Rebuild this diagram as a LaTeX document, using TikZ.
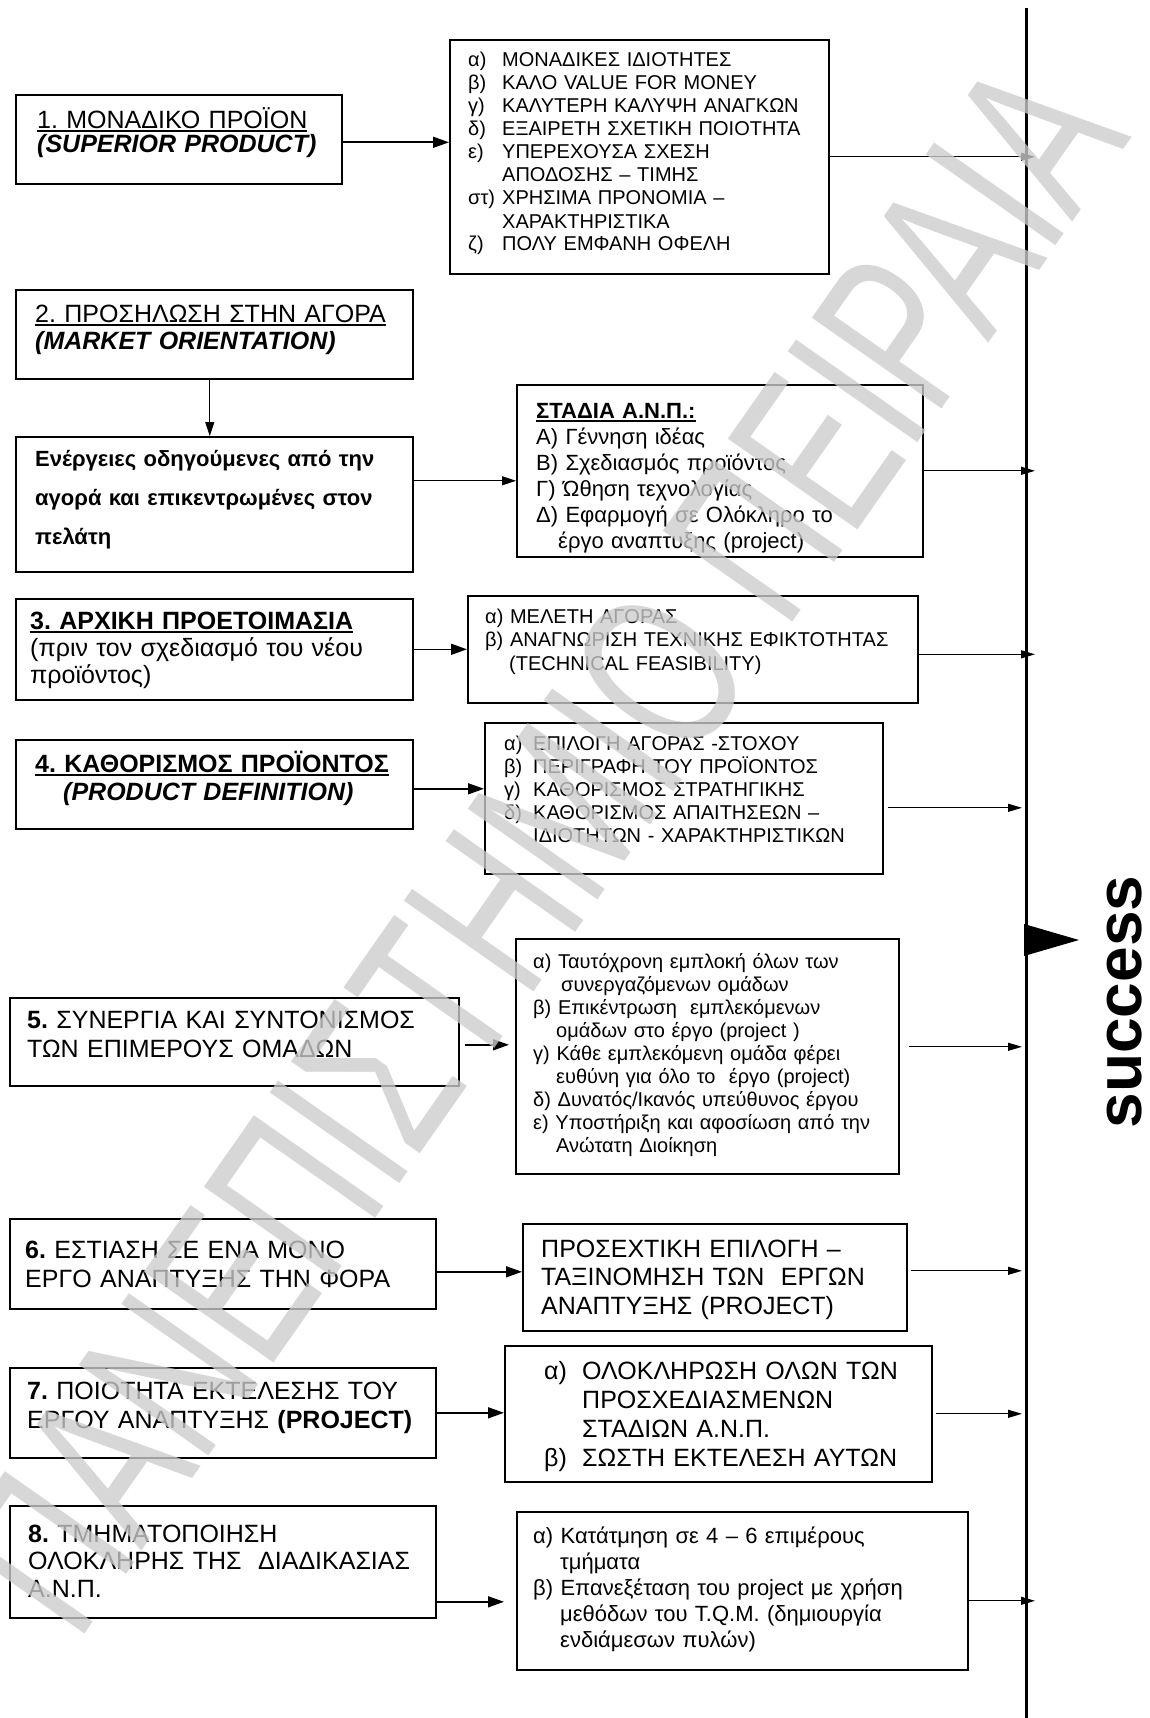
\documentclass[tikz,border=0pt]{standalone}
\usepackage{fontspec}
\setmainfont{Liberation Sans}
\usetikzlibrary{arrows.meta}
\frenchspacing
\newcommand\fs[2]{\fontsize{#1}{#2}\selectfont}
\newcommand\lab[2][34pt]{\makebox[#1][l]{#2}}
\newcommand\hd[1]{\setbox0\hbox{#1}\rlap{\rule[-3.5pt]{\wd0}{1.8pt}}\box0}
\tikzset{
  box/.style={draw, line width=1.6pt, inner sep=0pt, anchor=north west},
  txt/.style={anchor=base west, inner sep=0pt, text width=440pt, align=left},
  flow/.style={line width=1.6pt, -{Triangle[length=16pt,width=11pt]}},
  thinflow/.style={line width=1.1pt, -{Triangle[length=14pt,width=9pt]}},
  goal/.style={line width=1.2pt, -{Triangle[length=14pt,width=8pt]}},
}
\begin{document}
\begin{tikzpicture}[x=1pt,y=-1pt]
  \useasboundingbox (0,0) rectangle (1149,1718);
  % the axis towards success
  \coordinate (ax) at (1026,8);
  \coordinate (axb) at (1026,1718);
  \draw[line width=3pt] (ax) -- (axb);
  \fill (1024,924) -- (1079,940) -- (1024,956) -- cycle;
  \node[rotate=90, font=\fs{64}{64}\bfseries] (succ) at (1125,1002) {success};

  % 1
  \node[box, minimum width=326, minimum height=89] (c1) at (15,94) {};
  \node[txt, font=\fs{25}{23.5}] (c1t) at (37,128.5)
    {\hd{1. ΜΟΝΑΔΙΚΟ ΠΡΟΪΟΝ}\\\textbf{\textit{(SUPERIOR PRODUCT)}}};
  \node[box, minimum width=379, minimum height=234] (r1) at (449,39) {};
  \node[txt, font=\fs{20}{23}] (r1t) at (468,67)
    {\lab{α)}ΜΟΝΑΔΙΚΕΣ ΙΔΙΟΤΗΤΕΣ\\
     \lab{β)}ΚΑΛΟ VALUE FOR MONEY\\
     \lab{γ)}ΚΑΛΥΤΕΡΗ ΚΑΛΥΨΗ ΑΝΑΓΚΩΝ\\
     \lab{δ)}ΕΞΑΙΡΕΤΗ ΣΧΕΤΙΚΗ ΠΟΙΟΤΗΤΑ\\
     \lab{ε)}ΥΠΕΡΕΧΟΥΣΑ ΣΧΕΣΗ\\
     \lab{}ΑΠΟΔΟΣΗΣ – ΤΙΜΗΣ\\
     \lab{στ)}ΧΡΗΣΙΜΑ ΠΡΟΝΟΜΙΑ –\\
     \lab{}ΧΑΡΑΚΤΗΡΙΣΤΙΚΑ\\
     \lab{ζ)}ΠΟΛΥ ΕΜΦΑΝΗ ΟΦΕΛΗ};
  \draw[flow] ([yshift=-3]c1.east) -- ([yshift=-3]c1.east -| r1.west);
  \draw[goal] (r1.east) -- ([xshift=9]r1.east -| ax);

  % 2
  \node[box, minimum width=397, minimum height=89] (c2) at (15,289) {};
  \node[txt, font=\fs{25}{27}] (c2t) at (35,322)
    {\hd{2. ΠΡΟΣΗΛΩΣΗ ΣΤΗΝ ΑΓΟΡΑ}\\\textbf{\textit{(MARKET ORIENTATION)}}};
  \node[box, minimum width=397, minimum height=135] (c2b) at (15,436) {};
  \node[txt, font=\fs{22}{39}\bfseries] (c2bt) at (35,466)
    {Ενέργειες οδηγούμενες από την\\αγορά και επικεντρωμένες στον\\πελάτη};
  \node[box, minimum width=406, minimum height=172] (r2) at (516,384) {};
  \node[txt, font=\fs{22}{26}] (r2t) at (536,418)
    {\textbf{\hd{ΣΤΑΔΙΑ Α.Ν.Π.:}}\\
     Α) Γέννηση ιδέας\\
     Β) Σχεδιασμός προϊόντος\\
     Γ) Ώθηση τεχνολογίας\\
     Δ) Εφαρμογή σε Ολόκληρο το\\
     \lab[22pt]{}έργο αναπτυξης (project)};
  \draw[thinflow] ([xshift=-4.5]c2.south) -- ([xshift=-4.5]c2b.north);
  \draw[thinflow] ([yshift=23.5]c2b.east) -- ([yshift=23.5]c2b.east -| r2.west);
  \draw[goal] (r2.east) -- ([xshift=9]r2.east -| ax);

  % 3
  \node[box, minimum width=397, minimum height=101] (c3) at (15,598) {};
  \node[txt, font=\fs{25}{27}] (c3t) at (30,629)
    {\textbf{\hd{3. ΑΡΧΙΚΗ ΠΡΟΕΤΟΙΜΑΣΙΑ}}\\(πριν τον σχεδιασμό του νέου\\προϊόντος)};
  \node[box, minimum width=450, minimum height=107] (r3) at (467,595) {};
  \node[txt, font=\fs{20}{23.5}] (r3t) at (485,623)
    {α) ΜΕΛΕΤΗ ΑΓΟΡΑΣ\\
     β) ΑΝΑΓΝΩΡΙΣΗ ΤΕΧΝΙΚΗΣ ΕΦΙΚΤΟΤΗΤΑΣ\\
     \lab[24pt]{}(TECHNICAL FEASIBILITY)};
  \draw[flow] (c3.east) -- (c3.east -| r3.west);
  \draw[goal] ([yshift=-5]r3.east) -- ([xshift=9,yshift=-5]r3.east -| ax);

  % 4
  \node[box, minimum width=397, minimum height=89] (c4) at (15,739) {};
  \node[txt, font=\fs{25}{28}] (c4t) at (35,772)
    {\textbf{\hd{4. ΚΑΘΟΡΙΣΜΟΣ ΠΡΟΪΟΝΤΟΣ}}\\\lab[28pt]{}\textbf{\textit{(PRODUCT DEFINITION)}}};
  \node[box, minimum width=398, minimum height=151] (r4) at (484,722) {};
  \node[txt, font=\fs{20}{23}] (r4t) at (504,750)
    {\lab[29pt]{α)}ΕΠΙΛΟΓΗ ΑΓΟΡΑΣ -ΣΤΟΧΟΥ\\
     \lab[29pt]{β)}ΠΕΡΙΓΡΑΦΗ ΤΟΥ ΠΡΟΪΟΝΤΟΣ\\
     \lab[29pt]{γ)}ΚΑΘΟΡΙΣΜΟΣ ΣΤΡΑΤΗΓΙΚΗΣ\\
     \lab[29pt]{δ)}ΚΑΘΟΡΙΣΜΟΣ ΑΠΑΙΤΗΣΕΩΝ –\\
     \lab[29pt]{}ΙΔΙΟΤΗΤΩΝ - ΧΑΡΑΚΤΗΡΙΣΤΙΚΩΝ};
  \draw[flow] ([yshift=-4.5]c4.east) -- ([yshift=-4.5]c4.east -| r4.west);
  \draw[goal, shorten <=4] ([yshift=-9.5]r4.east) -- ([xshift=-4,yshift=-9.5]r4.east -| ax);

  % 5
  \node[box, minimum width=449, minimum height=88] (c5) at (9,997) {};
  \node[txt, font=\fs{25}{29}] (c5t) at (27,1028)
    {\textbf{5.} ΣΥΝΕΡΓΙΑ ΚΑΙ ΣΥΝΤΟΝΙΣΜΟΣ\\ΤΩΝ ΕΠΙΜΕΡΟΥΣ ΟΜΑΔΩΝ};
  \node[box, minimum width=383, minimum height=235] (r5) at (515,938) {};
  \node[txt, font=\fs{20}{23}] (r5t) at (533,968)
    {α) Ταυτόχρονη εμπλοκή όλων των\\
     \lab[28pt]{}συνεργαζόμενων ομάδων\\
     β) Επικέντρωση \ εμπλεκόμενων\\
     \lab[23pt]{}ομάδων στο έργο (project )\\
     γ) Κάθε εμπλεκόμενη ομάδα φέρει\\
     \lab[23pt]{}ευθύνη για όλο το \ έργο (project)\\
     δ) Δυνατός/Ικανός υπεύθυνος έργου\\
     ε) Υποστήριξη και αφοσίωση από την\\
     \lab[23pt]{}Ανώτατη Διοίκηση};
  \draw[flow, shorten <=5, shorten >=6] ([yshift=-3]c5.east) -- ([yshift=-3]c5.east -| r5.west);
  \draw[goal, shorten <=9] ([yshift=9.5]r5.east) -- ([xshift=-4,yshift=9.5]r5.east -| ax);

  % 6
  \node[box, minimum width=426, minimum height=90] (c6) at (9,1218) {};
  \node[txt, font=\fs{25}{29}] (c6t) at (25,1258)
    {\textbf{6.} ΕΣΤΙΑΣΗ ΣΕ ΕΝΑ ΜΟΝΟ\\ΕΡΓΟ ΑΝΑΠΤΥΞΗΣ ΤΗΝ ΦΟΡΑ};
  \node[box, minimum width=384, minimum height=107] (r6) at (522,1223) {};
  \node[txt, font=\fs{25}{28.5}] (r6t) at (541,1257)
    {ΠΡΟΣΕΧΤΙΚΗ ΕΠΙΛΟΓΗ –\\ΤΑΞΙΝΟΜΗΣΗ ΤΩΝ \ ΕΡΓΩΝ\\ΑΝΑΠΤΥΞΗΣ (PROJECT)};
  \draw[flow] ([yshift=-8]c6.east) -- ([yshift=-8]c6.east -| r6.west);
  \draw[goal, shorten <=3] ([yshift=6.5]r6.east) -- ([xshift=-4,yshift=6.5]r6.east -| ax);

  % 7
  \node[box, minimum width=426, minimum height=90] (c7) at (9,1367) {};
  \node[txt, font=\fs{25}{29}] (c7t) at (27,1399)
    {\textbf{7.} ΠΟΙΟΤΗΤΑ ΕΚΤΕΛΕΣΗΣ ΤΟΥ\\ΕΡΓΟΥ ΑΝΑΠΤΥΞΗΣ \textbf{(PROJECT)}};
  \node[box, minimum width=427, minimum height=136] (r7) at (504,1345) {};
  \node[txt, font=\fs{25}{29}] (r7t) at (544,1379)
    {\lab[38pt]{α)}ΟΛΟΚΛΗΡΩΣΗ ΟΛΩΝ ΤΩΝ\\
     \lab[38pt]{}ΠΡΟΣΧΕΔΙΑΣΜΕΝΩΝ\\
     \lab[38pt]{}ΣΤΑΔΙΩΝ Α.Ν.Π.\\
     \lab[38pt]{β)}ΣΩΣΤΗ ΕΚΤΕΛΕΣΗ ΑΥΤΩΝ};
  \draw[flow] (c7.east) -- (c7.east -| r7.west);
  \draw[goal, shorten <=3] (r7.east) -- ([xshift=-4]r7.east -| ax);

  % 8
  \node[box, minimum width=426, minimum height=112] (c8) at (9,1505) {};
  \node[txt, font=\fs{25}{27.5}] (c8t) at (28,1542)
    {\textbf{8.} ΤΜΗΜΑΤΟΠΟΙΗΣΗ\\ΟΛΟΚΛΗΡΗΣ ΤΗΣ \ ΔΙΑΔΙΚΑΣΙΑΣ\\Α.Ν.Π.};
  \node[box, minimum width=451, minimum height=158] (r8) at (516,1511) {};
  \node[txt, font=\fs{22}{26}] (r8t) at (533,1543)
    {α) Κατάτμηση σε 4 – 6 επιμέρους\\
     \lab[27pt]{}τμήματα\\
     β) Επανεξέταση του project με χρήση\\
     \lab[27pt]{}μεθόδων του T.Q.M. (δημιουργία\\
     \lab[27pt]{}ενδιάμεσων πυλών)};
  \draw[flow, shorten >=12] ([yshift=-40]c8.east) -- ([yshift=-40]c8.east -| r8.west);
  \draw[goal] ([yshift=-10]r8.east) -- ([xshift=9,yshift=-10]r8.east -| ax);

  % watermark
  \node[rotate=55, xscale=0.68, transform shape, text=black!20, opacity=0.78,
        font=\fs{230}{230}] (wm) at (540,845) {ΠΑΝΕΠΙΣΤΗΜΙΟ ΠΕΙΡΑΙΑ};
\end{tikzpicture}
\end{document}
